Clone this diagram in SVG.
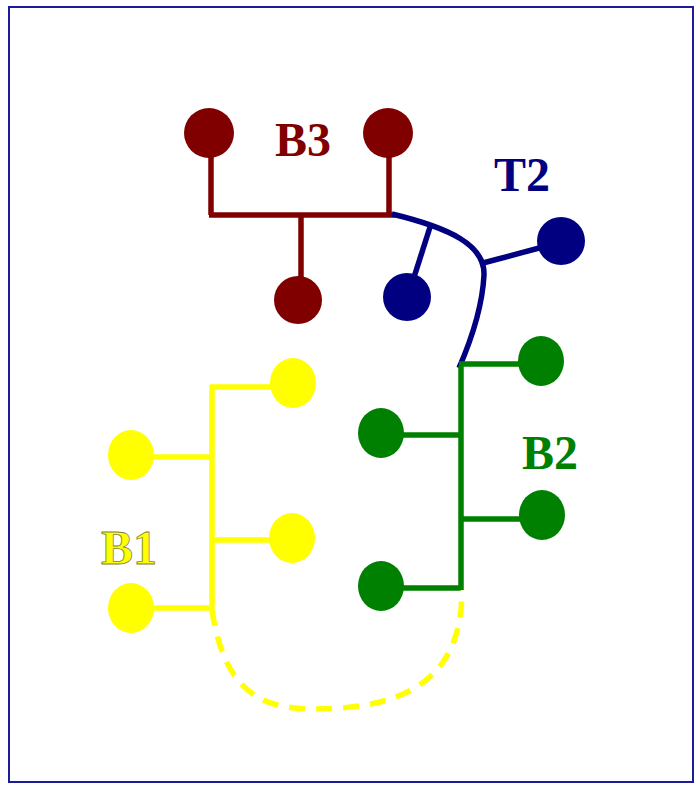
<svg xmlns="http://www.w3.org/2000/svg" width="698" height="785" viewBox="0 0 698 785">
<style>
.lbl{font-family:"Liberation Serif","Times New Roman",serif;font-weight:bold;font-size:48px}
.w{stroke-width:5.5;fill:none;stroke-linecap:butt}
.r{fill:#800000}.rs{stroke:#800000}
.b{fill:#000080}.bs{stroke:#000080}
.g{fill:#008000}.gs{stroke:#008000}
.y{fill:#FFFF00}.ys{stroke:#FFFF00}
</style>
<rect x="0" y="0" width="698" height="785" fill="#ffffff"/>
<rect x="9" y="7" width="684" height="775" fill="#ffffff" stroke="#1c1c96" stroke-width="2"/>
<g id="connectors">
  <path class="w rs" d="M211,133 V215 M389,133 V215 M209,215 H395 M301,215 V300"/>
  <path class="w bs" d="M392,214 C450,228 485,245 484,275 Q482,315 459,368"/>
  <path class="w bs" d="M431,224 L408,296"/>
  <path class="w bs" d="M483,263 L558,243"/>
  <path class="w gs" d="M461,366 V590 M459,364 H540 M381,435 H461 M461,519 H540 M380,588 H461"/>
  <path class="w ys" d="M212,385 V610 M210,387 H290 M131,457 H212 M212,540 H290 M131,608 H212"/>
  <path class="w ys" d="M212,610 C224,692 262,709 314,709 C405,709 462,680 462,590" stroke-dasharray="16 11"/>
</g>
<g id="B3">
  <circle class="r" cx="209" cy="133" r="25"/>
  <circle class="r" cx="388" cy="133" r="25"/>
  <circle class="r" cx="298" cy="300" r="24"/>
  <text class="lbl r" x="275" y="156">B3</text>
</g>
<g id="T2">
  <circle class="b" cx="407" cy="297" r="24"/>
  <circle class="b" cx="561" cy="241" r="24"/>
  <text class="lbl b" x="494" y="191">T2</text>
</g>
<g id="B2">
  <ellipse class="g" cx="541" cy="361" rx="23" ry="25"/>
  <ellipse class="g" cx="381" cy="433" rx="23" ry="25"/>
  <ellipse class="g" cx="542" cy="515" rx="23" ry="25"/>
  <ellipse class="g" cx="381" cy="586" rx="23" ry="25"/>
  <text class="lbl g" x="522" y="469">B2</text>
</g>
<g id="B1">
  <ellipse class="y" cx="293" cy="383" rx="23" ry="25"/>
  <ellipse class="y" cx="131" cy="455" rx="23" ry="25"/>
  <ellipse class="y" cx="292" cy="538" rx="23" ry="25"/>
  <ellipse class="y" cx="131" cy="608" rx="23" ry="25"/>
  <text class="lbl y" x="101" y="564" stroke="#808040" stroke-width="0.8">B1</text>
</g>
</svg>
